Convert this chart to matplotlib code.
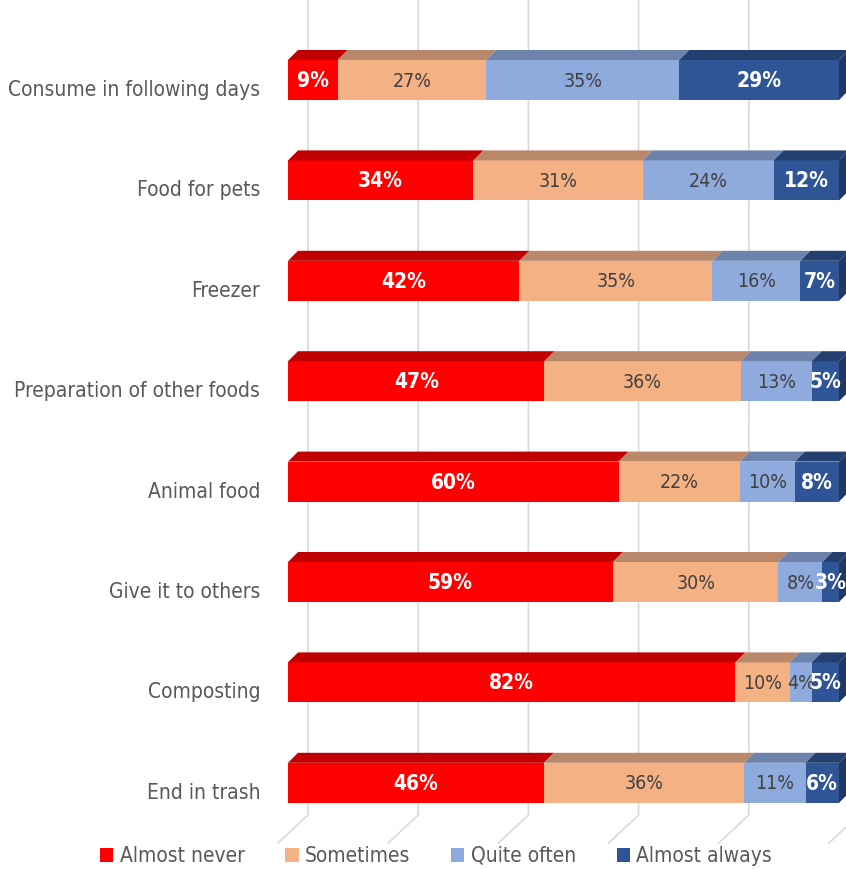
import matplotlib.pyplot as plt
from matplotlib.patches import Polygon, Patch
from matplotlib.transforms import ScaledTranslation

plt.rcParams['font.family'] = ['DejaVu Sans']
plt.rcParams['font.stretch'] = 'condensed'

categories = ["Consume in following days", "Food for pets", "Freezer",
              "Preparation of other foods", "Animal food", "Give it to others",
              "Composting", "End in trash"]
almost_never = [9, 34, 42, 47, 60, 59, 82, 46]
sometimes = [27, 31, 35, 36, 22, 30, 10, 36]
quite_often = [35, 24, 16, 13, 10, 8, 4, 11]
almost_always = [29, 12, 7, 5, 8, 3, 5, 6]

series = [
    ("Almost never", almost_never, "#FF0000", "#C00000", "white", "bold"),
    ("Sometimes", sometimes, "#F4B183", "#B9876A", "#404040", "normal"),
    ("Quite often", quite_often, "#8FAADC", "#6D83AB", "#404040", "normal"),
    ("Almost always", almost_always, "#2F5597", "#233F70", "white", "bold"),
]

W, H = 846, 869
fig = plt.figure(figsize=(W / 100, H / 100), dpi=100)
# pixel layout of the plot area: 0% at x=288, 100% at x=839, bars every ~100 px
px_per_pct = 5.51
row_px = 100.4
first_row_px = 80
bottom_px = 845
ax = fig.add_axes([288 / W, (H - bottom_px) / H, 551 / W, bottom_px / H])
ax.set_xlim(0, 100)
ax.set_ylim((bottom_px - first_row_px) / row_px, -first_row_px / row_px)

bar_h = 40 / row_px
dx = 10 / px_per_pct       # depth offset of the 3D faces
dy = -10 / row_px

# back wall gridlines with the slanted floor lines
wall_dx = 20 / px_per_pct
floor_y = (815 - first_row_px) / row_px
floor_end = (843 - first_row_px) / row_px
for k in range(6):
    gx = k * 20 + wall_dx
    ax.plot([gx, gx, gx - 30 / px_per_pct], [-1, floor_y, floor_end],
            color="#D9D9D9", lw=1.2, zorder=0, clip_on=False)

# rows are drawn as 100% stacked shares
totals = [sum(v) for v in zip(almost_never, sometimes, quite_often, almost_always)]
left = [0.0] * len(categories)
for name, vals, face, top, tcolor, tweight in series:
    shares = [v / t * 100 for v, t in zip(vals, totals)]
    ax.barh(range(len(categories)), shares, left=left, height=bar_h,
            color=face, edgecolor="none", zorder=2)
    for i, (v, s) in enumerate(zip(vals, shares)):
        x0, x1 = left[i], left[i] + s
        yt = i - bar_h / 2
        ax.add_patch(Polygon([(x0, yt), (x1, yt), (x1 + dx, yt + dy), (x0 + dx, yt + dy)],
                             closed=True, facecolor=top, edgecolor="none",
                             zorder=3, clip_on=False))
        ax.text((x0 + x1) / 2, i + 0.01, f"{v}%", ha="center", va="center",
                color=tcolor, fontweight=tweight, fontsize=15 if tweight == "bold" else 14,
                zorder=5)
    left = [l + s for l, s in zip(left, shares)]

# right-hand side face of each stack
for i in range(len(categories)):
    x1 = left[i]
    yt, yb = i - bar_h / 2, i + bar_h / 2
    ax.add_patch(Polygon([(x1, yt), (x1 + dx, yt + dy), (x1 + dx, yb + dy), (x1, yb)],
                         closed=True, facecolor="#1F3864", edgecolor="none",
                         zorder=3, clip_on=False))

ax.set_yticks(range(len(categories)), categories)
ax.tick_params(axis="y", length=0, pad=20, labelsize=15, labelcolor="#595959")
# category labels sit a little below the bar centres
shift = ScaledTranslation(0, -8 / 100, fig.dpi_scale_trans)
for lab in ax.get_yticklabels():
    lab.set_transform(lab.get_transform() + shift)
ax.set_xticks([])
for sp in ax.spines.values():
    sp.set_visible(False)
ax.patch.set_alpha(0)

handles = [Patch(facecolor=s[2], edgecolor="none", label=s[0]) for s in series]
fig.legend(handles=handles, loc="center", bbox_to_anchor=(436 / W, 1 - 856 / H),
           ncol=4, frameon=False, fontsize=15, handlelength=0.65, handleheight=0.65,
           handletextpad=0.3, columnspacing=1.95, labelcolor="#595959")

fig.savefig("out.png", dpi=100, facecolor="white")
